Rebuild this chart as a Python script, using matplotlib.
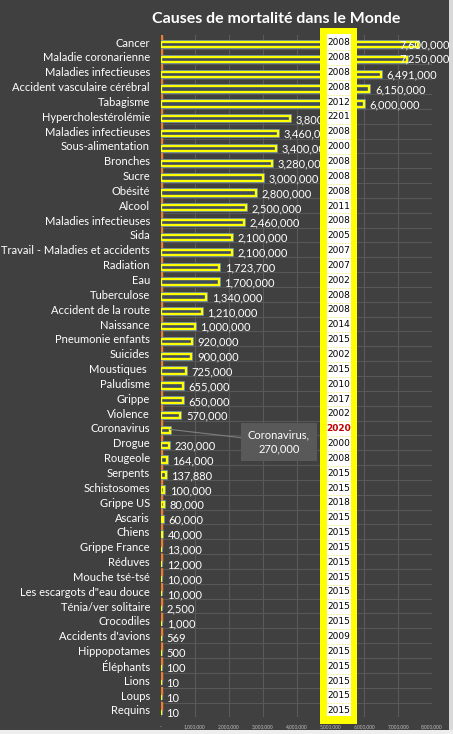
import numpy as np
import matplotlib
matplotlib.use("Agg")
import matplotlib.pyplot as plt
from matplotlib.patches import Rectangle
from matplotlib.ticker import FuncFormatter

plt.rcParams['font.family'] = ['Lato', 'DejaVu Sans']

# donnees
causes = ["Cancer", "Maladie coronarienne", "Maladies infectieuses",
          "Accident vasculaire cérébral", "Tabagisme", "Hypercholestérolémie",
          "Maladies infectieuses", "Sous-alimentation", "Bronches", "Sucre",
          "Obésité", "Alcool", "Maladies infectieuses", "Sida",
          "Travail - Maladies et accidents", "Radiation", "Eau", "Tuberculose",
          "Accident de la route", "Naissance", "Pneumonie enfants", "Suicides",
          "Moustiques ", "Paludisme", "Grippe", "Violence", "Coronavirus",
          "Drogue", "Rougeole", "Serpents", "Schistosomes", "Grippe US",
          "Ascaris", "Chiens", "Grippe France", "Réduves", "Mouche tsé-tsé",
          "Les escargots d\"eau douce", "Ténia/ver solitaire", "Crocodiles",
          "Accidents d'avions", "Hippopotames", "Éléphants", "Lions", "Loups",
          "Requins"]
morts = [7600000, 7250000, 6491000, 6150000, 6000000, 3800000, 3460000,
         3400000, 3280000, 3000000, 2800000, 2500000, 2460000, 2100000,
         2100000, 1723700, 1700000, 1340000, 1210000, 1000000, 920000, 900000,
         725000, 655000, 650000, 570000, 270000, 230000, 164000, 137880,
         100000, 80000, 60000, 40000, 13000, 12000, 10000, 10000, 2500, 1000,
         569, 500, 100, 10, 10, 10]
annees = [2008, 2008, 2008, 2008, 2012, 2201, 2008, 2000, 2008, 2008, 2008,
          2011, 2008, 2005, 2007, 2007, 2002, 2008, 2008, 2014, 2015, 2002,
          2015, 2010, 2017, 2002, 2020, 2000, 2008, 2015, 2015, 2018, 2015,
          2015, 2015, 2015, 2015, 2015, 2015, 2015, 2009, 2015, 2015, 2015,
          2015, 2015]
xticks = [0, 1000000, 2000000, 3000000, 4000000, 5000000, 6000000, 7000000, 8000000]
surligne = "Coronavirus"

bg = '#404040'
W, H = 453, 734
fig = plt.figure(figsize=(W / 100, H / 100), dpi=100, facecolor=bg)
ax = fig.add_axes([161 / W, 1 - 717.4 / H, 271 / W, (717.4 - 34.6) / H])
ax.set_facecolor(bg)

y = np.arange(len(causes))


def px2x(p):
    return (p - 161) / 271 * 8000000


def py2y(p):
    return (p - 42) / 14.84


# serie orange (annees), quasi invisible a cette echelle
ax.barh(y - 0.2, annees, height=0.42, color='#ed7d31', edgecolor='#ed7d31',
        linewidth=3.0, zorder=3, snap=False)
# serie jaune
ax.barh(y + 0.17, morts, height=0.36, color='#3e4b5e', edgecolor='#5b7fb0',
        linewidth=2.8, zorder=3)
ax.barh(y + 0.17, morts, height=0.36, color='#3e4b5e', edgecolor='#ffff00',
        linewidth=1.7, zorder=4)

for yi, v, c in zip(y, morts, causes):
    if c == surligne:
        ax.annotate(f"{c},\n{v:,}", xy=(v, yi + 0.1), xytext=(3.48e6, yi + 0.95),
                    ha='center', va='center', color='white', fontsize=8,
                    linespacing=1.35,
                    bbox=dict(boxstyle='square,pad=0.6', fc='#595959', ec='none'),
                    arrowprops=dict(arrowstyle='-', color='#7f7f7f', lw=0.8,
                                    shrinkA=0, shrinkB=0), zorder=6)
        continue
    fin = 161 + v / 8000000 * 271
    if fin + 56 > 450:
        # etiquette ramenee dans le graphique
        ax.text(px2x(450), yi + 0.17, f"{v:,}", ha='right', va='center',
                color='white', fontsize=8, zorder=5)
    else:
        ax.annotate(f"{v:,}", xy=(v, yi + 0.17), xytext=(4, -0.5),
                    textcoords='offset points', ha='left', va='center',
                    color='white', fontsize=8, zorder=5)

ax.set_xlim(0, 8000000)
ax.set_ylim(len(causes) - 0.5, -0.5)
ax.set_yticks(y)
ax.set_yticklabels(causes, color='white', fontsize=8)
ax.set_yticks(y[:-1] + 0.5, minor=True)
ax.set_xticks(xticks)
ax.xaxis.set_major_formatter(FuncFormatter(lambda v, p: '-' if v == 0 else f"{int(v):,}"))
ax.tick_params(axis='x', colors='#bfbfbf', labelsize=3.5, length=0, pad=5)
ax.tick_params(axis='y', which='both', length=0, pad=8)
ax.grid(axis='x', color='#5a5a5a', lw=0.8, zorder=0)
ax.grid(axis='y', which='minor', color='#575757', lw=0.8, zorder=0)
ax.grid(axis='y', which='major', visible=False)
for s in ax.spines.values():
    s.set_visible(False)

# colonne des annees
ax.add_patch(Rectangle((px2x(320), py2y(28)), px2x(357) - px2x(320),
                       py2y(724) - py2y(28), fc='#ffff00', ec='none',
                       zorder=7, clip_on=False))
ax.add_patch(Rectangle((px2x(327), py2y(34)), px2x(350.5) - px2x(327),
                       py2y(716) - py2y(34), fc='white', ec='none',
                       zorder=8, clip_on=False))
for yi in y[:-1]:
    ax.plot([px2x(327), px2x(350.5)], [yi + 0.55, yi + 0.55], color='#f0f080',
            lw=0.7, ls=(0, (1.5, 1.5)), zorder=9, clip_on=False)
for yi, a in zip(y, annees):
    rouge = a == 2020
    ax.text(px2x(338.7), yi + 0.05, str(a), ha='center', va='center',
            fontsize=6.5, color='#c00000' if rouge else 'black',
            fontweight='bold' if rouge else 'normal',
            family=['Liberation Sans Narrow', 'DejaVu Sans'], zorder=10,
            clip_on=False)

fig.text(276 / W, 1 - 19 / H, "Causes de mortalité dans le Monde", ha='center',
         va='center', color='white', fontsize=11.5, fontweight='bold')

# bords clairs de la feuille
fig.patches.append(Rectangle((449 / W, 0), 4 / W, 1, transform=fig.transFigure,
                             fc='#d9d9d9', ec='none'))
fig.patches.append(Rectangle((0, 0), 1, 4 / H, transform=fig.transFigure,
                             fc='#eeeeee', ec='none'))

fig.savefig("out.png", dpi=100, facecolor=bg)
